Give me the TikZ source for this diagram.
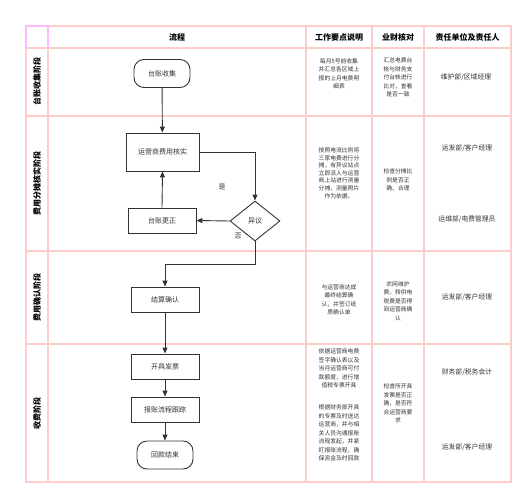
\documentclass[tikz,border=0pt]{standalone}
\usepackage{fontspec}
\setmainfont{Noto Sans CJK SC}
\usetikzlibrary{arrows.meta,shapes.geometric}
\definecolor{grid}{HTML}{FFCCCC}
\definecolor{gridm}{HTML}{FFBBFF}
\definecolor{ink}{HTML}{333333}
\tikzset{
  gridline/.style={draw=grid,line width=1.1pt},
  box/.style={draw=ink,line width=0.9pt,minimum width=68pt,minimum height=25pt,inner sep=0pt,font=\fontsize{7}{8}\selectfont,text=ink},
  term/.style={box,rounded corners=10pt,minimum width=56pt,minimum height=28pt},
  dec/.style={draw=ink,line width=0.9pt,diamond,aspect=1.25,minimum width=50pt,minimum height=40pt,inner sep=0pt,font=\fontsize{7}{8}\selectfont,text=ink},
  arr/.style={draw=ink,line width=0.9pt,-{Triangle[length=6pt,width=5pt]}},
  cell/.style={align=center,text=ink,inner sep=0pt,font=\fontsize{5.8}{8.5}\selectfont},
  resp/.style={align=center,text=ink,inner sep=0pt,font=\fontsize{6.8}{8}\selectfont},
  head/.style={text=black,inner sep=0pt,font=\fontsize{8}{9}\selectfont\bfseries},
  lane/.style={head,rotate=90},
  lbl/.style={text=ink,inner sep=0pt,font=\fontsize{7}{8}\selectfont}
}
\begin{document}
\begin{tikzpicture}[x=1pt,y=-1pt]
\useasboundingbox (0,0) rectangle (529,500);
% grid
\draw[gridline] (26,26) rectangle (511,482);
\foreach \yy in {48,116,251,344} \draw[gridline] (26,\yy) -- (511,\yy);
\foreach \xx in {48,306,372,424} \draw[gridline] (\xx,26) -- (\xx,482);
\draw[draw=gridm,line width=1.1pt] (26,48) -- (26,26) -- (48,26) -- (48,48);
% headers
\node[head] (h1) at (177,37) {流程};
\node[head] (h2) at (339,37) {工作要点说明};
\node[head] (h3) at (398,37) {业财核对};
\node[head] (h4) at (467.5,37) {责任单位及责任人};
% lanes
\node[lane] (l1) at (37,82) {台账收集阶段};
\node[lane] (l2) at (37,183.5) {费用分摊核实阶段};
\node[lane] (l3) at (37,297.5) {费用确认阶段};
\node[lane] (l4) at (37,413) {收费阶段};
% flow nodes
\node[term] (n1) at (162,73.5) {台账收集};
\node[box,minimum width=73pt,minimum height=38pt] (n2) at (162.5,152) {运营商费用核实};
\node[dec] (d1) at (255,221) {异议};
\node[box] (n3) at (162,220.5) {台账更正};
\node[box] (n4) at (165,299.5) {结算确认};
\node[box] (n5) at (165,366.5) {开具发票};
\node[box] (n6) at (165,409.5) {报账流程跟踪};
\node[term] (n7) at (165,455) {回款结束};
\coordinate (bend) at (255,264);
% connectors
\draw[arr] (n1) -- (n2);
\draw[arr] (n2.east) -| (d1.north);
\draw[arr] (d1.west) -- (n3.east);
\draw[arr] (n3.north) -- (n2.south);
\draw[arr] (d1.south) -- (bend) -| (n4.north);
\draw[arr] (n4) -- (n5);
\draw[arr] (n5) -- (n6);
\draw[arr] (n6) -- (n7);
\node[lbl] (yes) at (222,187) {是};
\node[lbl] (no) at (238,236) {否};
% row 1
\node[cell] (c11) at (339,74) {每月5号前收集\\并汇总各区域上\\报的上月电费明\\细表};
\node[cell] (c12) at (398,77.5) {汇总电费台\\帐与财务支\\付台帐进行\\比对，查看\\是否一致};
\node[resp] (c13) at (466,77) {维护部/区域经理};
% row 2
\node[cell,font=\fontsize{5.8}{7.6}\selectfont] (c21) at (339,173) {按照电流比例将\\三家电费进行分\\摊，有异议站点\\立即派人与运营\\商上站进行测量\\分摊，测量照片\\作为依据。};
\node[cell] (c22) at (398,180) {检查分摊比\\例是否正\\确、合理};
\node[resp] (c23) at (467,148) {运发部/客户经理};
\node[resp] (c24) at (467,219) {运维部/电费管理员};
% row 3
\node[cell] (c31) at (339,300) {与运营商达成\\最终结算确\\认，并签订纸\\质确认单};
\node[cell] (c32) at (398,301) {农网维护\\费、转供电\\税费是否得\\到运营商确\\认};
\node[resp] (c33) at (467,297) {运发部/客户经理};
% row 4
\node[cell] (c41) at (339,368.5) {依据运营商电费\\签字确认表以及\\当月运营商可付\\款额度，进行增\\值税专票开具};
\node[cell] (c42) at (339,433) {根据财务部开具\\的专票及时送达\\运营商，并与相\\关人员沟通报账\\流程发起，并紧\\盯报账流程，确\\保资金及时回款};
\node[cell] (c43) at (398,403.5) {检查所开具\\发票是否正\\确，是否符\\合运营商要\\求};
\node[resp] (c44) at (467,372) {财务部/税务会计};
\node[resp] (c45) at (467,447) {运发部/客户经理};
\end{tikzpicture}
\end{document}
